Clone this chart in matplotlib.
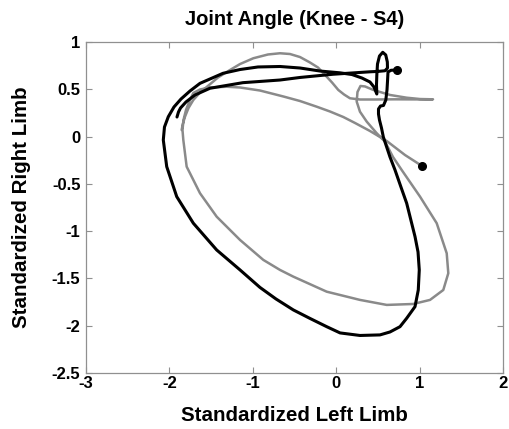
import matplotlib
matplotlib.use("Agg")
import matplotlib.pyplot as plt

plt.rcParams['font.family'] = ['Liberation Sans', 'DejaVu Sans']
plt.rcParams['font.weight'] = 'bold'

title = "Joint Angle (Knee - S4)"
xlabel = "Standardized Left Limb"
ylabel = "Standardized Right Limb"
xticks = [-3, -2, -1, 0, 1, 2]
yticks = [-2.5, -2, -1.5, -1, -0.5, 0, 0.5, 1]
ytick_labels = ["-2.5", "-2", "-1.5", "-1", "-0.5", "0", "0.5", "1"]

# Black curve (starts at the dot)
black_x = [0.729, 0.657, 0.621, 0.616, 0.609, 0.595, 0.567, 0.531, 0.507, 0.507,
           0.519, 0.543, 0.565, 0.645, 0.705, 0.775, 0.845, 0.945, 0.981, 0.996,
           0.984, 0.945, 0.845, 0.765, 0.645, 0.525, 0.285, 0.046, -0.114, -0.314,
           -0.514, -0.722, -0.914, -1.153, -1.433, -1.713, -1.912, -2.032, -2.073, -2.059,
           -2.013, -1.945, -1.861, -1.753, -1.633, -1.357, -1.153, -0.938, -0.674, -0.434,
           -0.194, 0.046, 0.189, 0.309, 0.405, 0.453, 0.487, 0.483, 0.487, 0.495,
           0.519, 0.558, 0.594, 0.613, 0.615, 0.585, 0.501, 0.405, -0.038, -0.434,
           -0.674, -1.118, -1.513, -1.693, -1.801, -1.867, -1.891, -1.909]
black_y = [0.704, 0.701, 0.683, 0.598, 0.493, 0.387, 0.329, 0.323, 0.292, 0.239,
           0.175, 0.091, -0.004, -0.216, -0.353, -0.530, -0.705, -1.058, -1.220, -1.410,
           -1.622, -1.798, -1.921, -2.010, -2.066, -2.097, -2.103, -2.076, -2.010, -1.923,
           -1.833, -1.717, -1.595, -1.410, -1.199, -0.916, -0.635, -0.318, -0.036, 0.101,
           0.210, 0.313, 0.397, 0.482, 0.563, 0.669, 0.709, 0.736, 0.741, 0.725,
           0.693, 0.674, 0.656, 0.619, 0.577, 0.524, 0.450, 0.545, 0.651, 0.767,
           0.852, 0.891, 0.863, 0.789, 0.725, 0.696, 0.689, 0.685, 0.659, 0.625,
           0.598, 0.570, 0.511, 0.440, 0.366, 0.302, 0.260, 0.207]

# Gray curve (starts at the dot)
gray_x = [1.029, 0.825, 0.606, 0.405, 0.225, 0.085, -0.074, -0.234, -0.434, -0.634,
          -0.914, -1.153, -1.313, -1.513, -1.633, -1.713, -1.759, -1.801, -1.831, -1.843,
          -1.833, -1.793, -1.633, -1.433, -1.153, -0.874, -0.674, -0.514, -0.114, 0.285,
          0.606, 0.924, 1.125, 1.284, 1.344, 1.325, 1.205, 1.005, 0.785, 0.681,
          0.585, 0.486, 0.366, 0.285, 0.246, 0.255, 0.291, 0.345, 0.445, 0.645,
          0.845, 1.005, 1.161, 0.945, 0.705, 0.465, 0.285, 0.165, 0.094, 0.025,
          -0.050, -0.114, -0.218, -0.314, -0.434, -0.554, -0.674, -0.818, -0.994, -1.153,
          -1.273, -1.417, -1.549, -1.633, -1.713, -1.771, -1.813, -1.839, -1.853]
gray_y = [-0.311, -0.195, -0.047, 0.059, 0.144, 0.207, 0.265, 0.316, 0.376, 0.424,
          0.487, 0.519, 0.527, 0.519, 0.498, 0.461, 0.376, 0.281, 0.175, 0.070,
          -0.036, -0.318, -0.599, -0.847, -1.093, -1.304, -1.410, -1.481, -1.640, -1.727,
          -1.780, -1.770, -1.727, -1.622, -1.445, -1.234, -0.916, -0.635, -0.353, -0.216,
          -0.054, 0.035, 0.158, 0.263, 0.369, 0.471, 0.535, 0.530, 0.493, 0.440,
          0.411, 0.397, 0.394, 0.393, 0.394, 0.392, 0.392, 0.405, 0.445, 0.493,
          0.572, 0.633, 0.730, 0.783, 0.841, 0.873, 0.881, 0.868, 0.828, 0.767,
          0.704, 0.625, 0.527, 0.466, 0.387, 0.302, 0.210, 0.133, 0.070]

fig = plt.figure(figsize=(5.10, 4.29), dpi=100)
ax = fig.add_axes([0.1686, 0.1305, 0.8177, 0.7716])

ax.plot(gray_x, gray_y, color='#8a8a8a', lw=1.8, solid_joinstyle='round',
        solid_capstyle='round', zorder=2)
ax.plot(black_x, black_y, color='black', lw=2.2, solid_joinstyle='round',
        solid_capstyle='round', zorder=3)
ax.plot(gray_x[:1], gray_y[:1], 'o', color='black', ms=5.5, zorder=4)
ax.plot(black_x[:1], black_y[:1], 'o', color='black', ms=5.5, zorder=4)

ax.set_xlim(-3, 2)
ax.set_ylim(-2.5, 1)
ax.set_xticks(xticks)
ax.set_xticklabels([str(t) for t in xticks])
ax.set_yticks(yticks)
ax.set_yticklabels(ytick_labels)
ax.tick_params(direction='in', length=4, width=0.8, color='#909090',
               top=True, right=True, labelsize=12)
ax.tick_params(axis='x', pad=2)
ax.tick_params(axis='y', pad=4)
for lab in ax.get_xticklabels() + ax.get_yticklabels():
    lab.set_fontweight('bold')
for s in ax.spines.values():
    s.set_color('#909090')
    s.set_linewidth(0.9)

ax.set_title(title, fontsize=14.5, fontweight='bold', pad=12)
ax.set_xlabel(xlabel, fontsize=14.8, fontweight='bold', labelpad=11)
ax.set_ylabel(ylabel, fontsize=14.8, fontweight='bold', labelpad=15)

fig.savefig("out.png", dpi=100)
